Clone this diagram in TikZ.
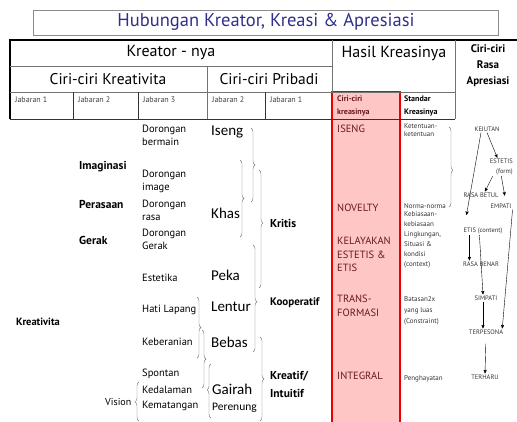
\documentclass[tikz,border=0pt]{standalone}
\usepackage{fontspec}
\setmainfont{PT Sans}
\newfontfamily\calfont{Carlito}
\usetikzlibrary{arrows,positioning,decorations.pathreplacing}
\definecolor{judulblue}{RGB}{48,48,140}
\definecolor{merah}{RGB}{235,0,0}
\definecolor{pinkbox}{RGB}{255,198,198}
\definecolor{coklat}{RGB}{105,25,25}

\begin{document}
\begin{tikzpicture}[x=1pt,y=-1pt,>=stealth',inner sep=1pt]
        \tikzstyle{judul}=[font=\fontsize{18.5}{20}\selectfont,text=judulblue]
        \tikzstyle{head}=[font=\fontsize{16}{18}\selectfont]
        \tikzstyle{jab}=[anchor=west,font=\fontsize{8}{9}\selectfont,text=black!75]
        \tikzstyle{item}=[anchor=west,align=left,font=\fontsize{10.5}{13}\selectfont]
        \tikzstyle{tebal}=[anchor=west,align=left,font=\bfseries\fontsize{11.5}{18}\selectfont]
        \tikzstyle{sifat}=[anchor=west,font=\calfont\fontsize{15}{16}\selectfont]
        \tikzstyle{kreasi}=[anchor=west,align=left,font=\fontsize{10.5}{13.5}\selectfont,text=coklat]
        \tikzstyle{standar}=[anchor=west,align=left,font=\fontsize{7}{10}\selectfont,text=black!80]
        \tikzstyle{rasa}=[font=\fontsize{6.5}{10}\selectfont,text=black!80]
        \tikzstyle{kurung}=[draw=black!55,decorate,decoration={brace,amplitude=4pt}]
        \tikzstyle{garis}=[draw=black!55]

        \useasboundingbox (0,0) rectangle (517,421);

        % judul
        \draw[black!45,thick] (33,10) rectangle (498,35);
        \node [judul] (judul) at (266,22) {Hubungan Kreator, Kreasi \& Apresiasi};

        % kolom merah
        \fill[pinkbox] (332,92) rectangle (400,423);
        \draw[merah,line width=2pt] (332,423) -- (332,92) -- (400,92) -- (400,423);

        % tabel kepala
        \draw[line width=1.3pt] (10,119) -- (10,40) -- (517,40);
        \draw[garis] (10,66) -- (332,66);
        \draw[garis] (10,92) -- (455,92);
        \draw[garis] (332,40) -- (332,92);
        \draw[garis] (455,40) -- (455,119);
        \draw[garis] (207,66) -- (207,119);
        \draw[black!80] (10,119) -- (455,119);
        \draw[black!80] (73,92) -- (73,119);
        \draw[black!80] (138,92) -- (138,119);
        \draw[black!80] (265,92) -- (265,119);

        \node [head] (kreator) at (171,53) {Kreator - nya};
        \node [head] (hasil) at (394,53) {Hasil Kreasinya};
        \node [head,font=\fontsize{15.5}{18}\selectfont] (kreativita) at (108,79) {Ciri-ciri Kreativita};
        \node [head,font=\fontsize{15.5}{18}\selectfont] (pribadi) at (269,79) {Ciri-ciri Pribadi};
        \node [align=center,font=\bfseries\fontsize{11}{16}\selectfont] (apresiasi) at (488,66) {Ciri-ciri\\Rasa\\Apresiasi};

        \node [jab] (jab1) at (14,100) {Jabaran 1};
        \node [jab] (jab2) at (77,100) {Jabaran 2};
        \node [jab] (jab3) at (142,100) {Jabaran 3};
        \node [jab] (jabp2) at (211,100) {Jabaran 2};
        \node [jab] (jabp1) at (269,100) {Jabaran 1};
        \node [jab,align=left,font=\bfseries\fontsize{8}{12.5}\selectfont,text=coklat] (cirikreasi) at (336,106) {Ciri-ciri\\kreasinya};
        \node [jab,align=left,font=\bfseries\fontsize{8}{12.5}\selectfont,text=black] (standar) at (403,106) {Standar\\Kreasinya};

        % kreativita
        \node [tebal,font=\bfseries\fontsize{10.5}{12}\selectfont] (kreatv) at (15,322) {Kreativita};
        \node [tebal] (imaginasi) at (78,167) {Imaginasi};
        \node [tebal] (perasaan) at (78,204) {Perasaan};
        \node [tebal] (gerak) at (78,240) {Gerak};
        \node [item] (dbermain) at (141,135) {Dorongan\\bermain};
        \node [item] (dimage) at (141,181) {Dorongan\\image};
        \node [item] (drasa) at (141,210.5) {Dorongan\\rasa};
        \node [item] (dgerak) at (141,239.5) {Dorongan\\Gerak};
        \node [item] (estetika) at (141,278) {Estetika};
        \node [item] (hati) at (141,310) {Hati Lapang};
        \node [item] (berani) at (141,342) {Keberanian};
        \node [item] (spontan) at (141,374) {Spontan};
        \node [item] (dalam) at (141,390) {Kedalaman};
        \node [item] (matang) at (141,406) {Kematangan};
        \node [item,font=\fontsize{10}{12}\selectfont] (vision) at (104,402) {Vision};

        % pribadi
        \node [sifat] (iseng) at (210,132) {Iseng};
        \node [sifat] (khas) at (210,213) {Khas};
        \node [sifat] (peka) at (210,275) {Peka};
        \node [sifat] (lentur) at (210,307) {Lentur};
        \node [sifat] (bebas) at (210,342) {Bebas};
        \node [sifat] (gairah) at (211,389) {Gairah};
        \node [sifat,font=\calfont\fontsize{11.5}{13}\selectfont] (renung) at (211,408) {Perenung};
        \node [tebal] (kritis) at (269,223) {Kritis};
        \node [tebal,font=\bfseries\fontsize{11}{18}\selectfont] (koop) at (269,303) {Kooperatif};
        \node [tebal] (intuitif) at (269,384) {Kreatif/\\Intuitif};

        % kurung kurawal
        \draw [kurung] (251,128) -- (251,202);
        \draw [kurung] (240,160) -- (240,237);
        \draw [kurung,decoration={aspect=0.45}] (259,170) -- (259,288);
        \draw [kurung,decoration={aspect=0.53}] (253,245) -- (253,352);
        \draw [kurung] (260,337) -- (260,421);
        \draw [kurung] (197,297) -- (197,358);
        \draw [kurung] (202,330) -- (202,388);
        \draw [kurung,decoration={aspect=0.52}] (211,418) -- (211,364);
        \draw [kurung,decoration={aspect=0.49}] (139,421) -- (139,382);
        \draw [kurung,decoration={aspect=0.54}] (449,127) -- (449,207);

        % hasil kreasi
        \node [kreasi] (iseng2) at (336,129) {ISENG};
        \node [kreasi] (novelty) at (336,208) {NOVELTY};
        \node [kreasi] (layak) at (336,254.5) {KELAYAKAN\\ESTETIS \&\\ETIS};
        \node [kreasi] (trans) at (336,306) {TRANS-\\FORMASI};
        \node [kreasi] (integral) at (336,376) {INTEGRAL};

        \node [standar,font=\fontsize{7}{8}\selectfont] (ketentuan) at (403,130) {Ketentuan-\\ketentuan};
        \node [standar] (norma) at (403,206) {Norma-norma};
        \node [standar] (kebiasaan) at (403,240) {Kebiasaan-\\kebiasaan\\Lingkungan,\\Situasi \&\\kondisi\\(context)};
        \node [standar,font=\fontsize{7}{11}\selectfont] (batasan) at (403,311) {Batasan2x\\yang luas\\(Constraint)};
        \node [standar] (hayat) at (403,379) {Penghayatan};

        % rasa apresiasi
        \node [rasa] (kejutan) at (487,129) {KEJUTAN};
        \node [rasa,anchor=east,align=right] (estetis) at (514,167) {ESTETIS\\(form)};
        \node [rasa] (betul) at (481,195) {RASA BETUL};
        \node [rasa] (empati) at (501,206) {EMPATI};
        \node [rasa] (etis) at (483,231) {ETIS (content)};
        \node [rasa] (benar) at (481,264) {RASA BENAR};
        \node [rasa] (simpati) at (486,298) {SIMPATI};
        \node [rasa] (pesona) at (486,332) {TERPESONA};
        \node [rasa] (haru) at (485,377) {TERHARU};

        \draw [->] (kejutan.south) -- ([xshift=-4pt]estetis.north);
        \draw [->,shorten >=12pt] ([xshift=-6pt]kejutan.south) -- ([xshift=2pt]etis.north west);
        \draw [->] ([xshift=4pt]estetis.south west) -- ([xshift=4pt]betul.north);
        \draw [->,shorten >=7pt] (estetis.south) -- ([xshift=5pt]empati.north);
        \draw [->] (empati.south east) -- ([xshift=-2pt]pesona.north east);
        \draw [->] ([xshift=7pt]etis.south west) -- ([xshift=7pt]etis.south west |- benar.north);
        \draw [->] ([xshift=17pt]etis.south west) -- ([xshift=-3pt]simpati.north);
        \draw [->] ([xshift=-3pt]simpati.south) -- ([xshift=-3pt]simpati.south |- pesona.north);
        \draw [->,shorten <=8pt] (pesona.south) -- (haru.north);
    \end{tikzpicture}
\end{document}
